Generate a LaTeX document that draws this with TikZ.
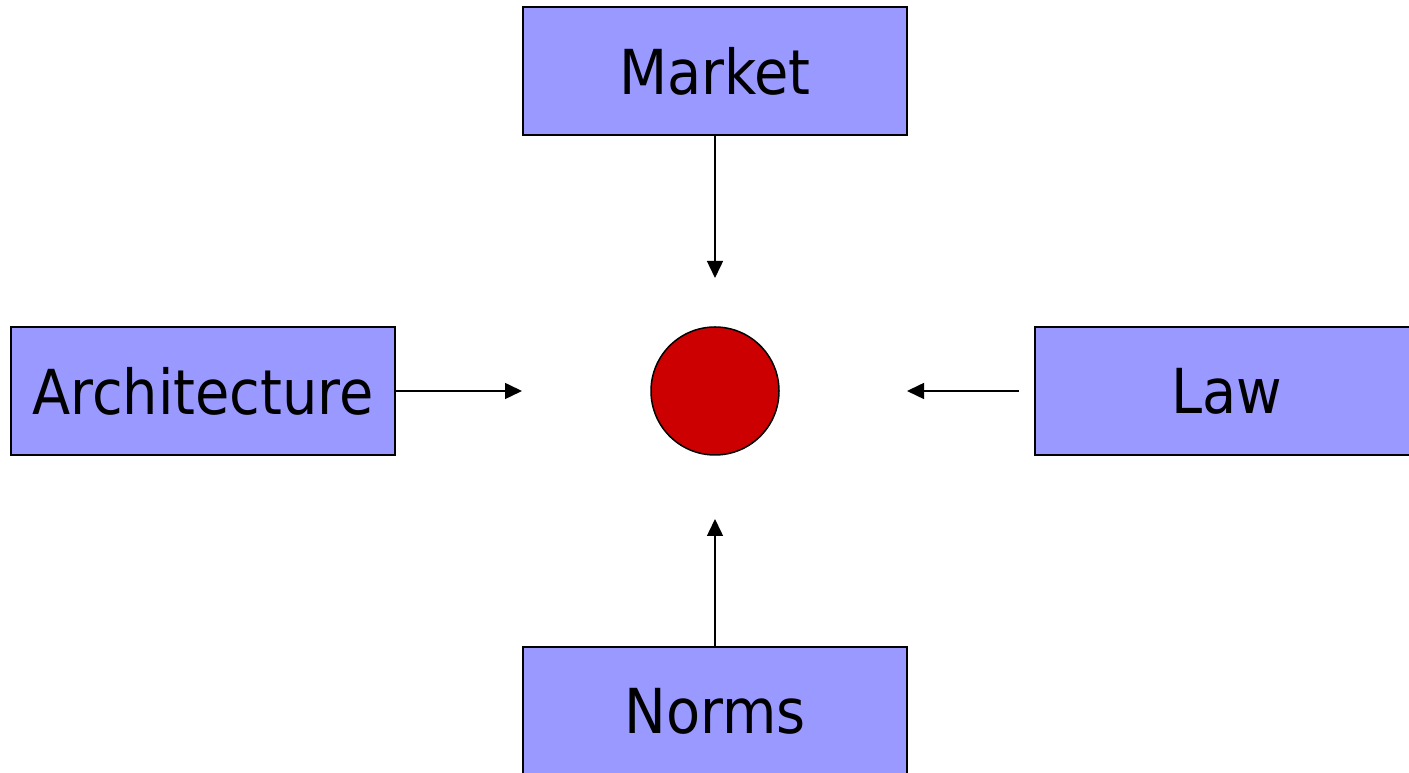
\documentclass[tikz,border=0pt]{standalone}
\usepackage{fontspec}
\setmainfont{DejaVu Sans Condensed}
\usetikzlibrary{arrows.meta}
\definecolor{boxfill}{HTML}{9999FF}
\definecolor{dotred}{HTML}{CC0000}
\tikzset{
  forcebox/.style={draw=black, line width=2pt, fill=boxfill, minimum width=384pt, minimum height=128pt, inner sep=0pt, font=\fontsize{62}{70}\selectfont},
  conn/.style={draw=black, line width=1.5pt, -{Triangle[length=17pt,width=16pt]}}
}
\begin{document}
\begin{tikzpicture}[x=1pt,y=1pt]
\useasboundingbox (0,0) rectangle (1409,773);
\node[forcebox] (market) at (715,702) {Market};
\node[forcebox] (arch) at (203,382) {Architecture};
\node[forcebox] (law) at (1227,382) {Law};
\node[forcebox] (norms) at (715,62) {Norms};
\node[circle, draw=black, line width=1.5pt, fill=dotred, minimum size=128pt, inner sep=0pt] (dot) at (715,382) {};
\coordinate (mEnd) at (715,495);
\coordinate (aEnd) at (522,382);
\coordinate (lStart) at (1019,382);
\coordinate (lEnd) at (907,382);
\coordinate (nEnd) at (715,254);
\draw[conn] (market.south) -- (mEnd);
\draw[conn] (arch.east) -- (aEnd);
\draw[conn] (lStart) -- (lEnd);
\draw[conn] (norms.north) -- (nEnd);
\end{tikzpicture}
\end{document}
